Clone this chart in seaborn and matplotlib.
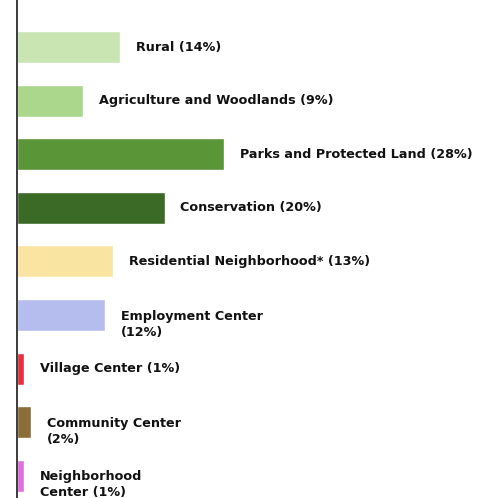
import matplotlib
matplotlib.use("Agg")
import matplotlib.pyplot as plt
import seaborn as sns
import pandas as pd

# Land use categories and their share of the total area (%)
categories = [
    "Rural",
    "Agriculture and Woodlands",
    "Parks and Protected Land",
    "Conservation",
    "Residential Neighborhood*",
    "Employment Center",
    "Village Center",
    "Community Center",
    "Neighborhood\nCenter",
]
shares = [14, 9, 28, 20, 13, 12, 1, 2, 1]
# separator between the name and the percentage in each label
separators = [" ", " ", " ", " ", " ", "\n", " ", "\n", " "]
colors = [
    "#c8e5b2",
    "#abd78c",
    "#5a9538",
    "#3b6a27",
    "#f9e4a2",
    "#b5bdee",
    "#e6303f",
    "#8a6d37",
    "#de6fdd",
]

df = pd.DataFrame({"category": categories, "share": shares})

sns.set_theme(style="white")
plt.rcParams["font.family"] = ["DejaVu Sans"]

fig = plt.figure(figsize=(4.78, 4.98), dpi=100)
ax = fig.add_axes([16.5 / 478, 0.0, 1 - 16.5 / 478, 1.0])

sns.barplot(
    data=df, x="share", y="category", hue="category",
    palette=dict(zip(categories, colors)), orient="h",
    width=0.6, legend=False, ax=ax, saturation=1.0,
)

ax.set_xlim(0, 461.5 / 7.4)
ax.set_ylim(8.414, -0.877)

for i, (name, sep, val) in enumerate(zip(categories, separators, shares)):
    label = f"{name}{sep}({val}%)"
    multiline = "\n" in label
    ax.annotate(
        label, xy=(val, i), xytext=(11.5, -6.5 if multiline else 0),
        textcoords="offset points", ha="left", va="center",
        fontsize=9.2, fontweight="bold", color="#111111",
        linespacing=1.3,
    )

for side in ["top", "right", "bottom"]:
    ax.spines[side].set_visible(False)
ax.spines["left"].set_color("#1a1a1a")
ax.spines["left"].set_linewidth(1.2)
ax.set_xticks([])
ax.set_yticks([])
ax.set_xlabel("")
ax.set_ylabel("")

fig.savefig("out.png", dpi=100)
